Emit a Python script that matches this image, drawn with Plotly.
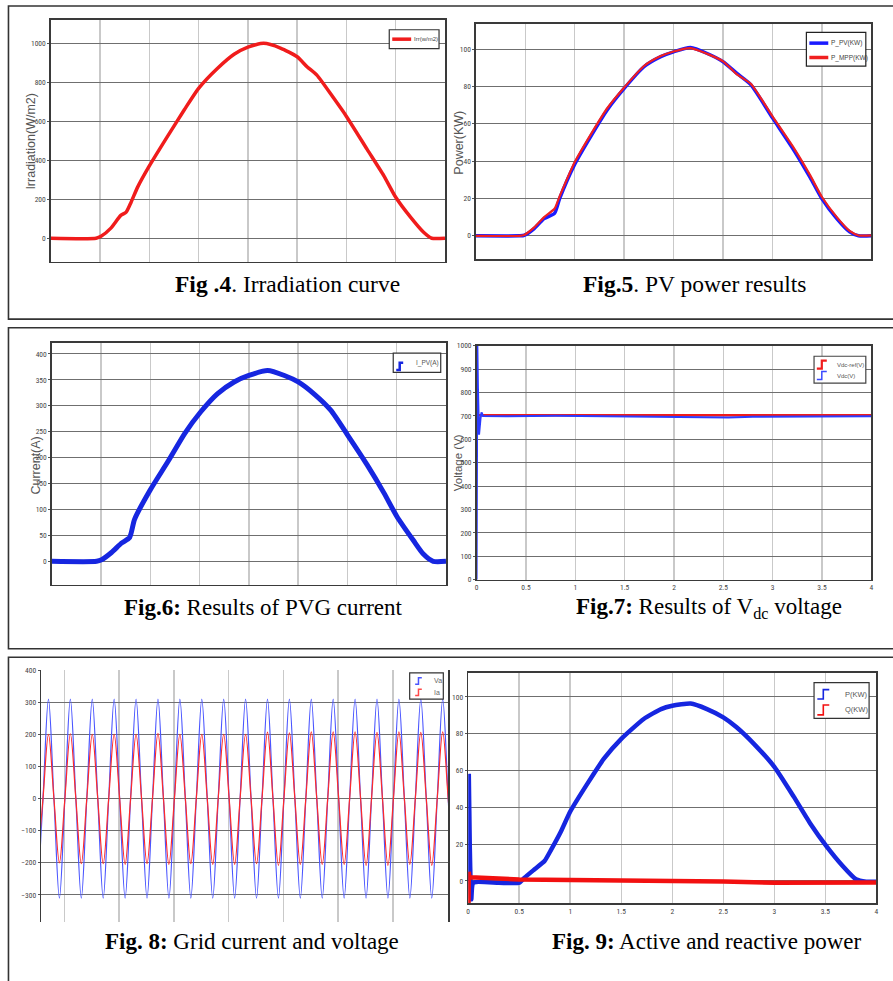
import plotly.graph_objects as go

W, H = 893, 981

# ---------------- data ----------------
# Fig.4 irradiation (W/m2) vs time (s)
t_irr = [0, 0.46, 0.51, 0.61, 0.71, 0.765, 0.815, 0.88, 1.0, 1.186, 1.355, 1.5, 1.69,
         1.86, 2.0, 2.16, 2.33, 2.5, 2.6, 2.7, 2.87, 3.0, 3.21, 3.38, 3.5, 3.65, 3.78, 3.865, 4.0]
irr = [0, 0, 10, 52, 117, 134, 185, 261, 371, 524, 659, 769, 871,
       944, 981, 1000, 976, 931, 880, 837, 719, 625, 456, 320, 210, 108, 32, 0, 0]

# Fig.5 PV power (KW)
t_pw = [0, 0.44, 0.49, 0.59, 0.69, 0.795, 0.846, 1.0, 1.164, 1.33, 1.5, 1.70, 1.87, 2.0,
        2.17, 2.34, 2.5, 2.64, 2.78, 3.0, 3.21, 3.38, 3.5, 3.65, 3.78, 3.87, 4.0]
p_pv = [0, 0, 0.3, 3.9, 9.2, 12.0, 19.8, 38.4, 53.5, 67.6, 79, 90.6, 96, 98.6,
        100.9, 97.7, 93.3, 87, 81, 63.2, 46.4, 31.3, 19.8, 9.2, 2.1, 0, 0]
p_mpp = [0, 0, 0.5, 4.5, 10, 14.5, 21, 39.5, 54.5, 68.5, 79.5, 91, 96.3, 98.8,
         100.6, 97.5, 93.5, 86.5, 81.5, 64, 47.5, 32.5, 20.8, 10, 2.6, 0.2, 0.2]

# Fig.6 PVG current (A)
t_ipv = [0, 0.455, 0.505, 0.606, 0.707, 0.79, 0.84, 1.0, 1.18, 1.35, 1.51, 1.68, 1.85, 2.0,
         2.19, 2.36, 2.5, 2.66, 2.83, 3.0, 3.2, 3.37, 3.5, 3.67, 3.77, 3.87, 4.0]
i_pv = [0, 0, 3, 17, 35, 46, 81, 138, 193, 247, 288, 323, 346, 358.5,
        368, 358.5, 346, 323, 291.5, 244, 186, 132, 87, 40, 14, 0, 0]

# Fig.7 DC-link voltage (V)
t_vdc = [0, 0.004, 0.008, 0.014, 0.025, 0.04, 0.05, 0.065, 0.3, 0.8, 1.2, 1.6, 2.0,
         2.3, 2.5, 2.55, 2.8, 3.2, 3.6, 4.0]
vdc = [0, 1000, 1000, 820, 620, 690, 715, 700, 699, 701, 700, 699, 698,
       697, 697, 694, 697, 698, 699, 699]
t_vref = [0, 4]
vdc_ref = [703, 703]

# Fig.8 grid voltage / current: successive extrema (one per half period, 50 Hz)
t_first_extremum = 0.0254
half_period = 0.01
va_ext = [-310, 310, -310, 310, -310, 310, -310, 310, -310, 310, -310, 310, -310,
          310, -310, 310, -310, 310, -310, 310, -310, 310, -310, 310, -310, 310,
          -310, 310, -310, 310, -310, 310, -310, 310, -310, 310, -310, 310, -310]
ia_ext = [-200, 200, -200, 202, -203, 200, -203, 200, -205, 200, -203, 203, -205,
          200, -203, 200, -205, 200, -205, 200, -203, 207, -208, 205, -205, 208,
          -205, 208, -205, 208, -208, 206, -208, 208, -205, 206, -208, 208, -208]

# Fig.9 active / reactive power (KW)
t_p = [0, 0.006, 0.015, 0.03, 0.05, 0.3, 0.5, 0.553, 0.65, 0.748, 0.813, 0.91, 1.0, 1.17,
       1.33, 1.5, 1.72, 1.89, 2.0, 2.18, 2.34, 2.5, 2.63, 2.8, 3.0, 3.19, 3.35, 3.51,
       3.67, 3.8, 3.9, 4.0]
p_kw = [0, 57, 20, -10, -1, -1, -1, 1.8, 6.3, 10.8, 17, 27, 37.7, 53,
        66.4, 77.2, 88, 93.4, 95.2, 96.4, 93.4, 88.9, 83.5, 74.5, 62, 45.8, 31.4, 18.9,
        8.1, 0.9, -0.4, -0.4]
t_q = [0, 0.003, 0.006, 0.01, 0.02, 0.25, 0.5, 1.0, 1.5, 2.0, 2.5, 3.0, 3.5, 4.0]
q_kw = [0, -12, 5, 2.5, 2, 1.5, 0.8, 0.5, 0.4, 0.3, -0.3, -1.0, -1.2, -0.8]

x_ticks = [0, 0.5, 1, 1.5, 2, 2.5, 3, 3.5, 4]
x_ticktext = ["0", "0.5", "1", "1.5", "2", "2.5", "3", "3.5", "4"]


def wave(ext):
    ts, vs = [], []
    for k, v in enumerate(ext):
        t = t_first_extremum + k * half_period
        ts.append(t)
        vs.append(v)
        if k < len(ext) - 1:
            ts.append(t + half_period / 2)
            vs.append(0)
    return ts, vs


t_va, va = wave(va_ext)
t_ia, ia = wave(ia_ext)

# ---------------- helpers ----------------
def fx(x):
    return x / W


def fy(y):
    return 1 - y / H


TICKFONT = dict(family="Liberation Sans Narrow, Roboto Condensed, Liberation Sans, Arial",
                size=7.5, color="#444")
SERIF = "Liberation Serif, Times New Roman, serif"
SANS = "Liberation Sans, Arial, sans-serif"
NARROW = "Liberation Sans Narrow, Liberation Sans, Arial"

fig = go.Figure()
shapes = []
annos = []


def axes(i, xpx, ypx, xr, yr, ydtick, ytick0, xdtick, xlabels, frame=True):
    sx = "" if i == 1 else str(i)
    xa = dict(domain=[fx(xpx[0]), fx(xpx[1])], range=xr, anchor="y" + sx,
              showgrid=True, gridcolor="#c9c9c9", gridwidth=1.5, zeroline=False,
              showline=frame, mirror=frame, linecolor="#3a3a3a", linewidth=1.5,
              tickfont=TICKFONT, fixedrange=True)
    if xlabels:
        xa.update(tickmode="array", tickvals=x_ticks, ticktext=x_ticktext, ticks="",
                  showticklabels=True)
    else:
        xa.update(tick0=0, dtick=xdtick, showticklabels=False, ticks="")
    ya = dict(domain=[fy(ypx[1]), fy(ypx[0])], range=yr, anchor="x" + sx,
              showgrid=True, gridcolor="#6f6f6f", gridwidth=1, zeroline=False,
              showline=True, mirror=True, linecolor="#3a3a3a", linewidth=1.5,
              tick0=ytick0, dtick=ydtick, ticks="outside", ticklen=2, tickcolor="#555",
              tickfont=TICKFONT, fixedrange=True)
    fig.layout["xaxis" + sx] = xa
    fig.layout["yaxis" + sx] = ya


def line(x0, y0, x1, y1, color, width):
    shapes.append(dict(type="line", xref="paper", yref="paper", x0=fx(x0), y0=fy(y0),
                       x1=fx(x1), y1=fy(y1), line=dict(color=color, width=width)))


def rect(x0, y0, x1, y1, color="#333", width=1.5, fill="rgba(0,0,0,0)"):
    shapes.append(dict(type="rect", xref="paper", yref="paper", x0=fx(x0), y0=fy(y1),
                       x1=fx(x1), y1=fy(y0), line=dict(color=color, width=width),
                       fillcolor=fill))


def step(x0, y0, x1, y1, color, width=2):
    xm = (x0 + x1) / 2
    path = "M{:.5f},{:.5f} L{:.5f},{:.5f} L{:.5f},{:.5f} L{:.5f},{:.5f}".format(
        fx(x0), fy(y1), fx(xm), fy(y1), fx(xm), fy(y0), fx(x1), fy(y0))
    shapes.append(dict(type="path", xref="paper", yref="paper", path=path,
                       line=dict(color=color, width=width)))


def text(x, y, s, size, color="#000", family=SANS, xanchor="left", angle=0):
    annos.append(dict(x=fx(x), y=fy(y), xref="paper", yref="paper", text=s,
                      showarrow=False, xanchor=xanchor, yanchor="middle", textangle=angle,
                      font=dict(size=size, color=color, family=family)))


# ---------------- axes ----------------
axes(1, (49, 445), (15.7, 260), [0, 4], [-120, 1122], 200, 0, 0.5, False)
axes(2, (476, 873.3), (20, 257.7), [0, 4], [-12.6, 113.6], 20, 0, 0.5, False)
axes(3, (50, 446), (341.7, 586), [0, 4], [-45, 422], 50, 0, 0.5, False)
axes(4, (476.7, 873.3), (345, 581), [0, 4], [0, 1000], 100, 0, 0.5, True)
axes(5, (39.3, 448.3), (671.7, 926.7), [0.0287, 0.4005], [-385, 402], 100, 0, 0.05, False,
     frame=False)
axes(6, (468.3, 878.3), (675, 907.7), [0, 4], [-12.2, 113.1], 20, 0, 0.5, True)

# ---------------- traces ----------------
fig.add_trace(go.Scatter(x=t_irr, y=irr, mode="lines", name="Irr(w/m2)",
                         line=dict(color="#f01c1c", width=3.5, shape="spline", smoothing=0.6),
                         xaxis="x", yaxis="y"))
fig.add_trace(go.Scatter(x=t_pw, y=p_pv, mode="lines", name="P_PV(KW)",
                         line=dict(color="#1a1aff", width=3.5, shape="spline", smoothing=0.6),
                         xaxis="x2", yaxis="y2"))
fig.add_trace(go.Scatter(x=t_pw, y=p_mpp, mode="lines", name="P_MPP(KW)",
                         line=dict(color="#f02020", width=2.2, shape="spline", smoothing=0.6),
                         xaxis="x2", yaxis="y2"))
fig.add_trace(go.Scatter(x=t_ipv, y=i_pv, mode="lines", name="I_PV(A)",
                         line=dict(color="#1626e0", width=5, shape="spline", smoothing=0.6),
                         xaxis="x3", yaxis="y3"))
fig.add_trace(go.Scatter(x=t_vref, y=vdc_ref, mode="lines", name="Vdc-ref(V)",
                         line=dict(color="#f01c1c", width=2.5),
                         xaxis="x4", yaxis="y4"))
fig.add_trace(go.Scatter(x=t_vdc, y=vdc, mode="lines", name="Vdc(V)",
                         line=dict(color="#2b3bff", width=2),
                         xaxis="x4", yaxis="y4"))
fig.add_trace(go.Scatter(x=t_va, y=va, mode="lines", name="Va",
                         line=dict(color="#4a55ff", width=1.2, shape="spline", smoothing=1),
                         xaxis="x5", yaxis="y5"))
fig.add_trace(go.Scatter(x=t_ia, y=ia, mode="lines", name="Ia",
                         line=dict(color="#ff2a2a", width=1.2, shape="spline", smoothing=1),
                         xaxis="x5", yaxis="y5"))
fig.add_trace(go.Scatter(x=t_p, y=p_kw, mode="lines", name="P(KW)",
                         line=dict(color="#1626e0", width=4.5, shape="spline", smoothing=0.5),
                         xaxis="x6", yaxis="y6"))
fig.add_trace(go.Scatter(x=t_q, y=q_kw, mode="lines", name="Q(KW)",
                         line=dict(color="#f21010", width=4.5),
                         xaxis="x6", yaxis="y6"))

# ---------------- panel borders ----------------
rect(6.5, 2, 905, 318, color="#333", width=1.6)
rect(6.5, 326.7, 905, 650.7, color="#333", width=1.6)
rect(6.5, 659.3, 905, 995, color="#333", width=1.6)

# ---------------- legends ----------------
rect(389, 26, 439, 45, color="#333", width=1.2, fill="white")
line(392, 35.5, 411, 35.5, "#f01c1c", 3.5)
text(412, 35.5, "Irr(w/m2)", 6, "#444", NARROW)

rect(808, 28.7, 867.7, 62.7, color="#222", width=1.2, fill="white")
line(811, 39.5, 830, 39.5, "#1a1aff", 3.5)
line(811, 54, 830, 54, "#f02020", 3.5)
text(830.5, 39.5, "P_PV(KW)", 6.5, "#444", NARROW)
text(830.5, 54, "P_MPP(KW)", 6.5, "#444", NARROW)

rect(393, 352.3, 440.7, 371.7, color="#333", width=1.2, fill="white")
step(396, 362, 403, 369.5, "#1626e0", 2.5)
text(414, 362, "I_PV(A)", 6.5, "#555", NARROW)

rect(815.7, 355.5, 867.7, 382.7, color="#444", width=1.2, fill="white")
step(818.5, 360, 828.5, 368, "#f01c1c", 2.2)
step(818.5, 371, 828.5, 379, "#3a4aff", 1.5)
text(837, 364, "Vdc-ref(V)", 6, "#555", NARROW)
text(837, 375, "Vdc(V)", 6, "#555", NARROW)

rect(409.5, 675, 443.3, 701.5, color="#333", width=1.2, fill="white")
step(415, 680, 421.7, 686.5, "#4a55ff", 1.5)
step(415, 691.5, 421.7, 698, "#ff4a4a", 1.5)
text(432, 683, "Va", 7, "#666", NARROW)
text(432, 695, "Ia", 7, "#666", NARROW)

rect(815.7, 685, 871, 721, color="#333", width=1.2, fill="white")
step(819, 692, 831, 701.5, "#1626e0", 1.6)
step(819, 707.5, 831, 717.5, "#f21010", 1.6)
text(845, 696.5, "P(KW)", 7.5, "#555", NARROW)
text(845, 712, "Q(KW)", 7.5, "#555", NARROW)

# ---------------- axis titles ----------------
text(29, 138, "Irradiation(W/m2)", 12.5, "#555", SANS, "center", -90)
text(459, 140, "Power(KW)", 12.5, "#555", SANS, "center", -90)
text(34, 466, "Current(A)", 12.5, "#555", SANS, "center", -90)
text(457.5, 463, "Voltage (V)", 11.5, "#555", SANS, "center", -90)

# ---------------- captions ----------------
text(287, 283, "<b>Fig .4</b>. Irradiation curve", 23.5, "#000", SERIF, "center")
text(695.5, 283, "<b>Fig.5</b>. PV power results", 23.5, "#000", SERIF, "center")
text(262, 609.5, "<b>Fig.6:</b> Results of PVG current", 23, "#000", SERIF, "center")
text(710, 609.5, "<b>Fig.7:</b> Results of V<sub>dc</sub> voltage", 23, "#000", SERIF, "center")
text(251, 946, "<b>Fig. 8:</b> Grid current and voltage", 23, "#000", SERIF, "center")
text(707.5, 946, "<b>Fig. 9:</b> Active and reactive power", 23, "#000", SERIF, "center")

fig.update_layout(width=W, height=H, margin=dict(l=0, r=0, t=0, b=0),
                  paper_bgcolor="white", plot_bgcolor="white", showlegend=False,
                  hovermode=False, shapes=shapes, annotations=annos)

fig.write_html("out.html", config={"displayModeBar": False, "staticPlot": True},
               post_script="document.body.style.margin='0';"
                           "document.body.style.padding='0';"
                           "document.body.style.overflow='hidden';")
